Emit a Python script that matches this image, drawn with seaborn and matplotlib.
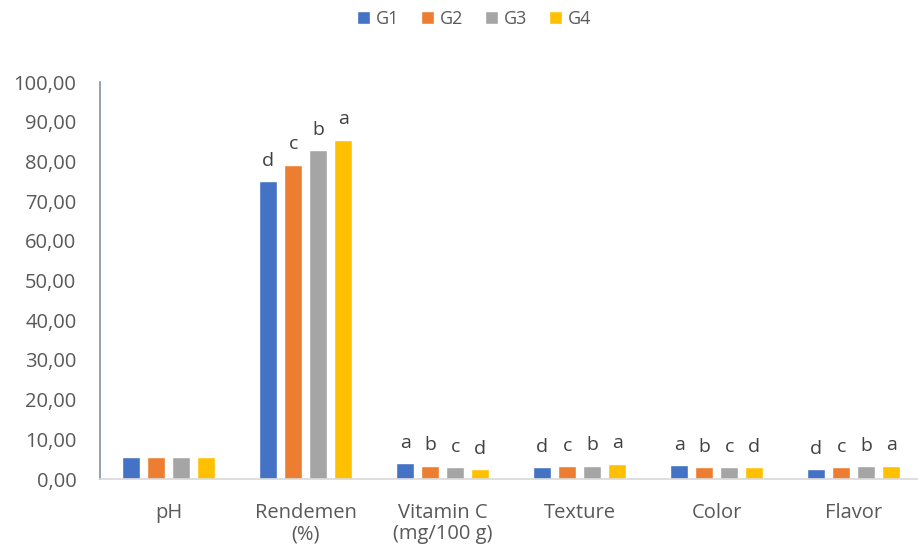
import matplotlib
matplotlib.use("Agg")
import matplotlib.pyplot as plt
import seaborn as sns
import pandas as pd
from matplotlib.ticker import FuncFormatter, MultipleLocator

categories = ["pH", "Rendemen\n(%)", "Vitamin C\n(mg/100 g)", "Texture", "Color", "Flavor"]
groups = ["G1", "G2", "G3", "G4"]
g1 = [5.5, 75.0, 4.0, 3.0, 3.5, 2.5]
g2 = [5.5, 79.2, 3.4, 3.2, 3.0, 3.0]
g3 = [5.5, 82.8, 3.1, 3.4, 3.0, 3.2]
g4 = [5.5, 85.5, 2.6, 3.9, 3.0, 3.4]
letters_g1 = ["", "d", "a", "d", "a", "d"]
letters_g2 = ["", "c", "b", "c", "b", "c"]
letters_g3 = ["", "b", "c", "b", "c", "b"]
letters_g4 = ["", "a", "d", "a", "d", "a"]

colors = ["#4472C4", "#ED7D31", "#A5A5A5", "#FFC000"]
txt = "#595959"

rows = []
for gname, vals in zip(groups, [g1, g2, g3, g4]):
    for c, v in zip(categories, vals):
        rows.append({"cat": c, "group": gname, "value": v})
df = pd.DataFrame(rows)

sns.set_theme(style="white")
plt.rcParams["font.family"] = ["Open Sans", "DejaVu Sans"]

fig = plt.figure(figsize=(9.18, 5.49), dpi=100)
ax = fig.add_axes([0.109, 0.1275, 0.891, 0.7231])
sns.barplot(data=df, x="cat", y="value", hue="group", order=categories,
            hue_order=groups, palette=colors, width=0.73, gap=0.27,
            saturation=1, ax=ax, legend=True)

for cont, labs in zip(ax.containers, [letters_g1, letters_g2, letters_g3, letters_g4]):
    ax.bar_label(cont, labels=labs, padding=8, fontsize=14, color="#404040")

ax.set_ylim(0, 100)
ax.set_xlim(-0.5, 5.47)
ax.yaxis.set_major_locator(MultipleLocator(10))
ax.yaxis.set_major_formatter(FuncFormatter(lambda v, p: f"{v:.2f}".replace(".", ",")))
ax.set_xlabel("")
ax.set_ylabel("")
ax.tick_params(axis="both", labelsize=14.5, colors=txt, length=0)
ax.tick_params(axis="y", pad=17)
ax.tick_params(axis="x", pad=17)
for s in ["top", "right"]:
    ax.spines[s].set_visible(False)
ax.spines["left"].set_color("#7f93a3")
ax.spines["left"].set_linewidth(1.2)
ax.spines["bottom"].set_color("#d9d9d9")
ax.spines["bottom"].set_linewidth(1.2)
for lab in ax.get_xticklabels():
    lab.set_linespacing(1.1)

handles, labels = ax.get_legend_handles_labels()
ax.legend_.remove()
fig.legend(handles, labels, loc="center", bbox_to_anchor=(0.517, 0.966), ncol=4,
           frameon=False, fontsize=13, handlelength=0.7, handleheight=0.7,
           handletextpad=0.35, columnspacing=1.2, labelcolor=txt)

fig.savefig("out.png", dpi=100)
